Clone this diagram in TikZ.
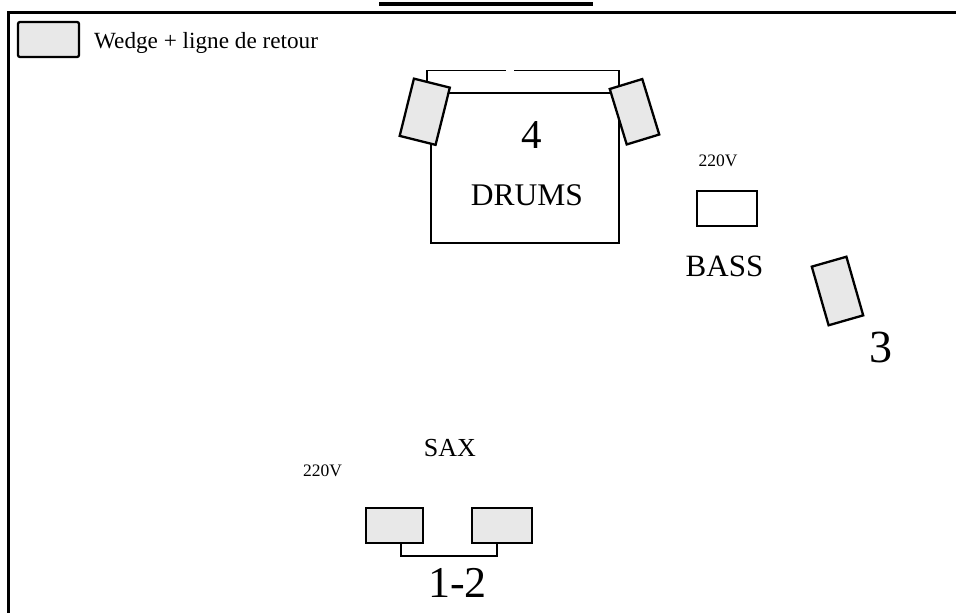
\documentclass[tikz,border=0pt]{standalone}
\usepackage{fontspec}
\setmainfont{Liberation Serif}
\definecolor{wedgegray}{HTML}{E8E8E8}
\newcommand{\fs}[1]{\fontsize{#1}{#1}\selectfont}
\tikzset{
  wedgebox/.style={draw, line width=2.3pt, fill=wedgegray, inner sep=0pt, minimum width=#1},
  wedgebox/.default=36pt,
  ampbox/.style={draw, line width=2.3pt, fill=white, inner sep=0pt},
  lbl/.style={inner sep=0pt, anchor=base},
  thin/.style={line width=1.9pt}
}
\begin{document}
\begin{tikzpicture}[x=1pt,y=-1pt]
\useasboundingbox (0,0) rectangle (956,613);
% frame
\fill (379,2) rectangle (593,6);
\draw[line width=2.5pt] (956,12.5) -- (8.5,12.5) -- (8.5,613);
% legend
\node[wedgebox=61pt, minimum height=35pt, rounded corners=2pt] (leg) at (48.5,39.5) {};
\node[lbl, anchor=base west, font=\fs{23.2}] (legt) at (94,48) {Wedge + ligne de retour};
% drums
\draw[thin] (431,93) rectangle (619,243);
\coordinate (bl) at (427,90);
\coordinate (br) at (619,90);
\draw[thin] (bl) -- (427,70.5) -- (506,70.5);
\draw[thin] (514,70.5) -- (619,70.5) -- (br);
\node[wedgebox=37pt, minimum height=59pt, rotate=-14] (w4a) at (424.75,111.75) {};
\node[wedgebox=34pt, minimum height=58pt, rotate=17] (w4b) at (634.5,111.75) {};
\node[lbl, font=\fs{41}] (n4) at (532,148) {4};
\node[lbl, font=\fs{31.5}] (drums) at (527,205) {DRUMS};
% bass
\node[lbl, font=\fs{17.5}] (v1) at (718,166) {220V};
\node[ampbox, minimum width=60pt, minimum height=35pt] (amp) at (727,208.5) {};
\node[lbl, font=\fs{31}] (bass) at (724.5,276.5) {BASS};
\node[wedgebox=36pt, minimum height=61pt, rotate=16] (w3) at (837.5,291) {};
\node[lbl, font=\fs{46}] (n3) at (881,362) {3};
% sax
\node[lbl, font=\fs{26}] (sax) at (450,456.5) {SAX};
\node[lbl, font=\fs{17.5}] (v2) at (322.5,476.5) {220V};
\node[wedgebox=57pt, minimum height=35pt] (w1) at (394.5,525.5) {};
\node[wedgebox=60pt, minimum height=35pt] (w2) at (502,525.5) {};
\coordinate (c1) at (401,556);
\coordinate (c2) at (497,556);
\draw[thin] (w1.south -| c1) -- (c1) -- (c2) -- (w2.south -| c2);
\node[lbl, font=\fs{44}] (n12) at (457.5,597) {1-2};
\end{tikzpicture}
\end{document}
